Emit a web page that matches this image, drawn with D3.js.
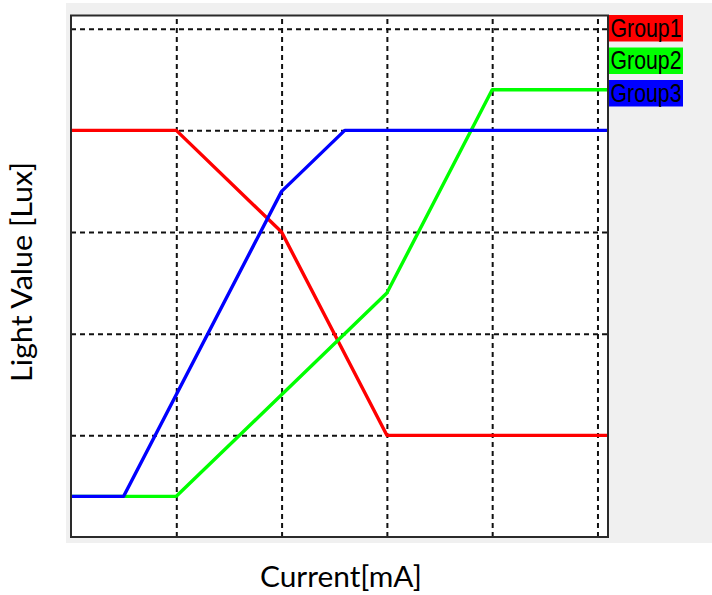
<!DOCTYPE html>
<html>
<head>
<meta charset="utf-8">
<script src="https://cdn.jsdelivr.net/npm/d3@7"></script>
<style>
html,body{margin:0;padding:0;background:#fff;}
svg{display:block;}
</style>
</head>
<body>
<svg id="chart" width="712" height="595"></svg>
<script>
// ---- data ----
const seriesNames = ["Group1", "Group2", "Group3"];
const seriesColors = ["#ff0000", "#00ff00", "#0000ff"];
const group1X = [0, 1, 2, 3, 5.1];
const group1Y = [4, 4, 3, 1, 1];
const group2X = [0, 1, 3, 4, 5.1];
const group2Y = [0.4, 0.4, 2.4, 4.4, 4.4];
const group3X = [0, 0.5, 2, 2.6, 5.1];
const group3Y = [0.4, 0.4, 3.4, 4, 4];
const xGridTicks = [1, 2, 3, 4, 5];
const yGridTicks = [1, 2, 3, 4, 5];
const xLabel = "Current[mA]";
const yLabel = "Light Value [Lux]";

const svg = d3.select("#chart");
const plot = {left: 71, right: 608, top: 15.5, bottom: 537};

// panel background
svg.append("rect").attr("x", 66).attr("y", 3).attr("width", 712 - 66).attr("height", 540)
  .attr("fill", "#f0f0f0");
svg.append("rect").attr("x", plot.left).attr("y", plot.top)
  .attr("width", plot.right - plot.left).attr("height", plot.bottom - plot.top)
  .attr("fill", "#ffffff");

const x = d3.scaleLinear().domain([0, 5.1]).range([plot.left, plot.right]);
const y = d3.scaleLinear().domain([0, 5.13]).range([plot.bottom, plot.top]);

// grid via axes
const gx = svg.append("g").attr("transform", `translate(0,${plot.bottom})`)
  .call(d3.axisBottom(x).tickValues(xGridTicks).tickSize(-(plot.bottom - plot.top)).tickFormat(""));
const gy = svg.append("g").attr("transform", `translate(${plot.left},0)`)
  .call(d3.axisLeft(y).tickValues(yGridTicks).tickSize(-(plot.right - plot.left)).tickFormat(""));
[gx, gy].forEach(g => {
  g.select(".domain").remove();
  g.selectAll(".tick line").attr("stroke", "#111").attr("stroke-width", 2)
    .attr("stroke-dasharray", "5,4");
});

// series lines
const series = [
  {xs: group1X, ys: group1Y},
  {xs: group2X, ys: group2Y},
  {xs: group3X, ys: group3Y}
];
const line = d3.line().x(d => x(d[0])).y(d => y(d[1]));
series.forEach((s, i) => {
  const pts = s.xs.map((v, j) => [v, s.ys[j]]);
  svg.append("path").datum(pts).attr("d", line)
    .attr("fill", "none").attr("stroke", seriesColors[i]).attr("stroke-width", 3.4)
    .attr("stroke-linejoin", "round");
});

// frame
svg.append("rect").attr("x", plot.left).attr("y", plot.top)
  .attr("width", plot.right - plot.left).attr("height", plot.bottom - plot.top)
  .attr("fill", "none").attr("stroke", "#2a2a2a").attr("stroke-width", 2);

// legend
const lg = svg.append("g");
seriesNames.forEach((name, i) => {
  const top = 15 + i * 32.5;
  lg.append("rect").attr("x", 609).attr("y", top).attr("width", 74).attr("height", 26.5)
    .attr("fill", seriesColors[i]);
  lg.append("text").attr("x", 610.5).attr("y", top + 21.5)
    .attr("font-family", "Liberation Sans, Arial, sans-serif").attr("font-size", 25)
    .attr("textLength", 71).attr("lengthAdjust", "spacingAndGlyphs")
    .attr("fill", "#000").text(name);
});

// axis labels
svg.append("text").attr("x", 341).attr("y", 587).attr("text-anchor", "middle")
  .attr("font-family", "Lato, sans-serif").attr("font-size", 29)
  .attr("textLength", 162).attr("lengthAdjust", "spacingAndGlyphs")
  .attr("fill", "#000").text(xLabel);
svg.append("text").attr("transform", "translate(32,272) rotate(-90)").attr("text-anchor", "middle")
  .attr("font-family", "Lato, sans-serif").attr("font-size", 29)
  .attr("textLength", 220).attr("lengthAdjust", "spacingAndGlyphs")
  .attr("fill", "#000").text(yLabel);
</script>
</body>
</html>
